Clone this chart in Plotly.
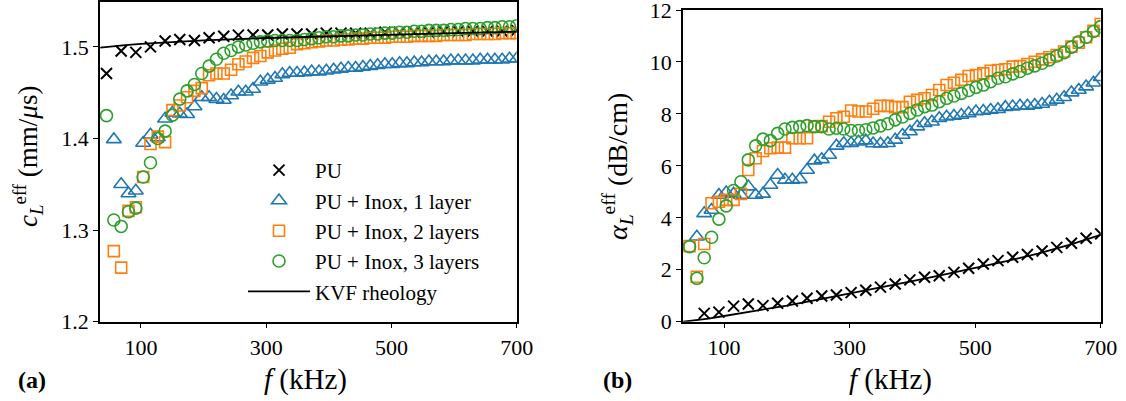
import plotly.graph_objects as go

# ---------------- data ----------------
freq = [45.0, 56.7, 68.4, 80.1, 91.8, 103.5, 115.2, 126.9, 138.6, 150.3,
        162.0, 173.7, 185.4, 197.1, 208.8, 220.5, 232.2, 243.9, 255.6, 267.3,
        279.0, 290.7, 302.4, 314.1, 325.8, 337.5, 349.2, 360.9, 372.6, 384.3,
        396.0, 407.7, 419.4, 431.1, 442.8, 454.5, 466.2, 477.9, 489.6, 501.3,
        513.0, 524.7, 536.4, 548.1, 559.8, 571.5, 583.2, 594.9, 606.6, 618.3,
        630.0, 641.7, 653.4, 665.1, 676.8, 688.5, 700.0]
freq_pu = freq[::2]

# (a) effective phase velocity (mm/us)
c_pu = [1.471, 1.4956, 1.494, 1.500, 1.5065, 1.508, 1.507, 1.510, 1.5117, 1.5128,
        1.513, 1.513, 1.514, 1.514, 1.514, 1.515, 1.515, 1.515, 1.515, 1.516,
        1.516, 1.516, 1.516, 1.517, 1.517, 1.517, 1.517, 1.517, 1.518]
c_1layer = [1.399, 1.350, 1.340, 1.343, 1.395, 1.404, 1.401, 1.4215, 1.428, 1.427,
            1.4265, 1.435, 1.445, 1.445, 1.443, 1.442, 1.447, 1.451, 1.451, 1.454,
            1.462, 1.464, 1.466, 1.470, 1.4715, 1.4715, 1.472, 1.473, 1.473, 1.474,
            1.475, 1.476, 1.477, 1.477, 1.478, 1.479, 1.480, 1.481, 1.481, 1.482,
            1.482, 1.483, 1.483, 1.484, 1.484, 1.484, 1.485, 1.485, 1.485, 1.485,
            1.486, 1.486, 1.486, 1.486, 1.487, 1.487]
c_2layers = [1.277, 1.259, 1.321, 1.325, 1.358, 1.394, 1.402, 1.396, 1.431, 1.436,
             1.445, 1.452, 1.455, 1.469, 1.471, 1.471, 1.475, 1.481, 1.484, 1.488,
             1.490, 1.494, 1.496, 1.498, 1.499, 1.503, 1.504, 1.505, 1.506, 1.507,
             1.507, 1.508, 1.508, 1.509, 1.509, 1.510, 1.510, 1.510, 1.511, 1.511,
             1.511, 1.512, 1.512, 1.512, 1.512, 1.513, 1.513, 1.513, 1.513, 1.514,
             1.514, 1.514, 1.514, 1.515, 1.515, 1.515]
c_3layers = [1.425, 1.311, 1.304, 1.320, 1.324, 1.358, 1.3735, 1.400, 1.408, 1.4255,
             1.443, 1.452, 1.459, 1.471, 1.479, 1.4865, 1.493, 1.496, 1.500, 1.502,
             1.504, 1.5055, 1.5065, 1.507, 1.507, 1.507, 1.507, 1.508, 1.509, 1.510,
             1.511, 1.511, 1.512, 1.512, 1.513, 1.513, 1.514, 1.514, 1.515, 1.515,
             1.516, 1.516, 1.517, 1.517, 1.518, 1.518, 1.518, 1.519, 1.519, 1.520,
             1.520, 1.520, 1.521, 1.521, 1.522, 1.522, 1.523]
f_kvf_c = [35, 50, 75, 100, 150, 200, 300, 400, 500, 600, 700]
c_kvf = [1.4993, 1.5005, 1.502, 1.5033, 1.5055, 1.5072, 1.5097, 1.5117, 1.5134, 1.515, 1.5165]

# (b) effective attenuation (dB/cm)
a_pu = [0.32, 0.37, 0.60, 0.68, 0.62, 0.71, 0.80, 0.90, 0.99, 1.03,
        1.12, 1.21, 1.33, 1.45, 1.61, 1.71, 1.77, 1.90, 2.06, 2.22,
        2.35, 2.48, 2.59, 2.72, 2.86, 3.02, 3.21, 3.38]
a_1layer = [3.27, 4.17, 4.30, 4.88, 4.97, 4.92, 4.88, 5.20, 4.88, 4.92,
            5.26, 5.65, 5.46, 5.46, 5.48, 5.84, 6.20, 6.25, 6.42, 6.77,
            6.87, 6.87, 6.93, 6.97, 6.86, 6.85, 6.87, 7.00, 7.19, 7.32,
            7.51, 7.64, 7.70, 7.83, 7.89, 7.92, 7.96, 8.02, 8.09, 8.11,
            8.15, 8.18, 8.26, 8.28, 8.31, 8.31, 8.34, 8.38, 8.47, 8.54,
            8.64, 8.82, 8.92, 9.05, 9.20, 9.41]
a_2layers = [2.91, 1.73, 2.99, 4.56, 4.62, 4.69, 4.69, 4.92, 5.84, 6.29,
             6.57, 6.68, 6.70, 6.70, 7.06, 7.06, 7.06, 7.51, 7.53, 7.70,
             7.83, 7.89, 8.13, 8.09, 8.09, 8.20, 8.31, 8.31, 8.26, 8.26,
             8.47, 8.54, 8.60, 8.73, 8.92, 9.11, 9.20, 9.31, 9.46, 9.50,
             9.56, 9.66, 9.69, 9.72, 9.82, 9.84, 9.92, 10.01, 10.10, 10.18,
             10.27, 10.40, 10.59, 10.74, 10.95, 11.20, 11.46]
a_3layers = [2.89, 1.67, 2.46, 3.25, 3.95, 4.46, 5.05, 5.39, 6.23, 6.77,
             7.03, 6.97, 7.25, 7.42, 7.48, 7.51, 7.55, 7.51, 7.51, 7.42,
             7.45, 7.42, 7.36, 7.36, 7.39, 7.46, 7.54, 7.62, 7.77, 7.88,
             8.02, 8.15, 8.28, 8.34, 8.47, 8.60, 8.69, 8.79, 8.90, 9.02,
             9.11, 9.24, 9.37, 9.43, 9.54, 9.63, 9.76, 9.85, 9.95, 10.08,
             10.23, 10.36, 10.57, 10.78, 10.95, 11.17, 11.36]
f_kvf_a = [35, 50, 75, 100, 150, 200, 250, 300, 350, 400, 450, 500, 550, 600, 650, 700]
a_kvf = [0.0, 0.04, 0.12, 0.22, 0.41, 0.62, 0.85, 1.08, 1.32, 1.56, 1.81, 2.06, 2.33, 2.62, 2.96, 3.34]

labels = ["PU", "PU + Inox, 1 layer", "PU + Inox, 2 layers", "PU + Inox, 3 layers", "KVF rheology"]
colors = ["#000000", "#1f77b4", "#ff7f0e", "#2ca02c"]
symbols = ["x-thin", "triangle-up-open", "square-open", "circle-open"]
sizes = [11, 13, 11, 12]

FONT = "Liberation Serif"

fig = go.Figure()

panels = [
    ("x", "y", True, [(freq_pu, c_pu), (freq[1:], c_1layer), (freq[1:], c_2layers), (freq, c_3layers)],
     (f_kvf_c, c_kvf)),
    ("x2", "y2", False, [(freq_pu[1:], a_pu), (freq[1:], a_1layer), (freq, a_2layers), (freq, a_3layers)],
     (f_kvf_a, a_kvf)),
]

for xa, ya, show, series, kvf in panels:
    for i, (fx, fy) in enumerate(series):
        fig.add_trace(go.Scatter(
            x=fx, y=fy, mode="markers", name=labels[i], showlegend=show,
            xaxis=xa, yaxis=ya,
            marker=dict(symbol=symbols[i], size=sizes[i], color=colors[i],
                        line=dict(width=1.6 if i else 2, color=colors[i])),
        ))
    fig.add_trace(go.Scatter(
        x=kvf[0], y=kvf[1], mode="lines", name=labels[4], showlegend=show,
        xaxis=xa, yaxis=ya, line=dict(color="black", width=1.8),
    ))

axis_common = dict(showline=True, linecolor="black", linewidth=1.5, mirror=True,
                   ticks="outside", ticklen=5, tickwidth=1.2, tickcolor="black",
                   showgrid=False, zeroline=False, ticklabeloverflow="allow",
                   automargin=False,
                   tickfont=dict(family=FONT, size=22, color="black"))

W, H = 1126, 401
fig.update_layout(
    width=W, height=H, margin=dict(l=0, r=0, t=0, b=0, autoexpand=False),
    paper_bgcolor="white", plot_bgcolor="white",
    font=dict(family=FONT, size=21, color="black"),
    xaxis=dict(domain=[100 / W, 516.7 / W], range=[34.6, 700], tickvals=[100, 300, 500, 700], **axis_common),
    yaxis=dict(domain=[(H - 321.7) / H, (H - 2) / H], range=[1.2, 1.549],
               tickvals=[1.2, 1.3, 1.4, 1.5], ticktext=["1.2", "1.3", "1.4", "1.5"], **axis_common),
    xaxis2=dict(domain=[683 / W, 1100.7 / W], range=[34.6, 700], tickvals=[100, 300, 500, 700],
                anchor="y2", **axis_common),
    yaxis2=dict(domain=[(H - 321.7) / H, (H - 10) / H], range=[0, 12],
                tickvals=[0, 2, 4, 6, 8, 10, 12], anchor="x2", **axis_common),
    legend=dict(x=243 / W, y=(H - 150) / H, xanchor="left", yanchor="top", itemwidth=62,
                bgcolor="rgba(0,0,0,0)", font=dict(family=FONT, size=21, color="black")),
    showlegend=True,
)

ann = [
    dict(text="<b>(a)</b>", x=32 / W, y=(H - 380) / H, size=24, angle=0),
    dict(text="<b>(b)</b>", x=617 / W, y=(H - 380) / H, size=24, angle=0),
    dict(text="<i>f</i> (kHz)", x=305 / W, y=(H - 379) / H, size=29, angle=0),
    dict(text="<i>f</i> (kHz)", x=890 / W, y=(H - 379) / H, size=29, angle=0),
    dict(text="<i>c</i><sub><i>L</i></sub><sup>eff</sup> (mm/<i>μ</i>s)", x=28 / W, y=(H - 157) / H, size=27, angle=-90),
    dict(text="<i>α</i><sub><i>L</i></sub><sup>eff</sup> (dB/cm)", x=617 / W, y=(H - 167) / H, size=28, angle=-90),
]
for a in ann:
    fig.add_annotation(text=a["text"], x=a["x"], y=a["y"], xref="paper", yref="paper",
                       showarrow=False, textangle=a["angle"], xanchor="center", yanchor="middle",
                       font=dict(family=FONT, size=a["size"], color="black"))

fig.write_html("out.html", config={"displayModeBar": False},
               post_script="document.body.style.margin='0';document.body.style.overflow='hidden';")
